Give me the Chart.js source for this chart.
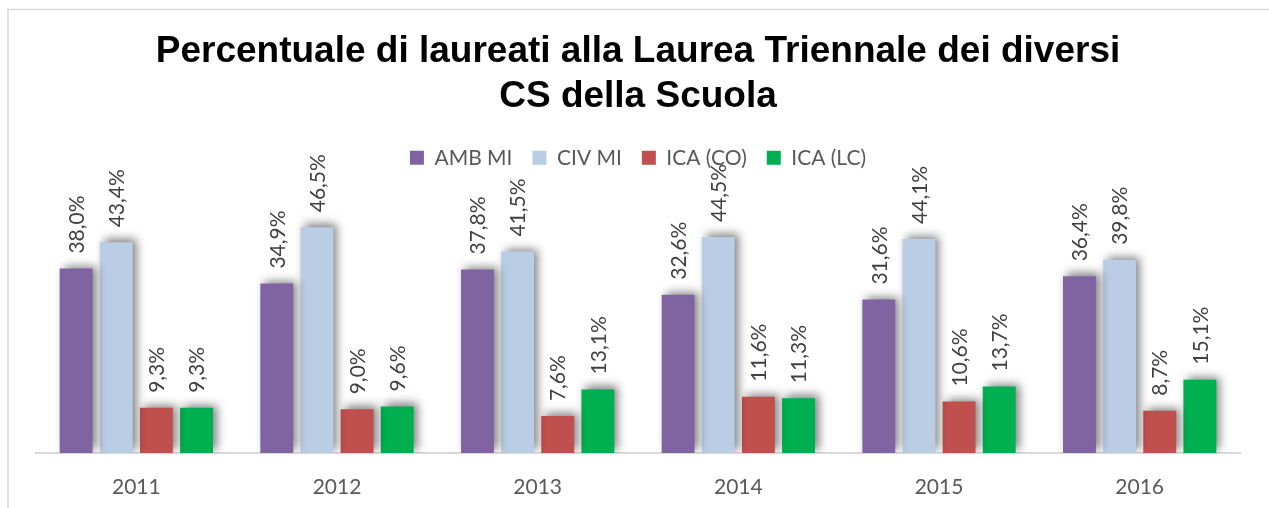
<!DOCTYPE html>
<html>
<head>
<meta charset="utf-8">
<script src="https://cdn.jsdelivr.net/npm/chart.js@4/dist/chart.umd.min.js"></script>
<style>
  body { margin: 0; background: #fff; }
  canvas { display: block; }
</style>
</head>
<body>
<canvas id="chart" width="1269" height="508"></canvas>
<script>
// DATA
const years = ["2011", "2012", "2013", "2014", "2015", "2016"];
const seriesNames = ["AMB MI", "CIV MI", "ICA (CO)", "ICA (LC)"];
const ambMi = [38.0, 34.9, 37.8, 32.6, 31.6, 36.4];
const civMi = [43.4, 46.5, 41.5, 44.5, 44.1, 39.8];
const icaCo = [9.3, 9.0, 7.6, 11.6, 10.6, 8.7];
const icaLc = [9.3, 9.6, 13.1, 11.3, 13.7, 15.1];
const seriesColors = ["#8064A2", "#B9CDE5", "#C0504D", "#00B050"];

const titleLines = [
    "Percentuale di laureati alla Laurea Triennale dei diversi",
    "CS della Scuola"
];

const bodyFont = "Lato, 'Open Sans', sans-serif";

// chart frame + bar shadows + value labels
const framePlugin = {
    id: "frame",
    beforeDraw(chart) {
        const ctx = chart.ctx;
        ctx.save();
        ctx.fillStyle = "#fff";
        ctx.fillRect(0, 0, chart.width, chart.height);
        ctx.strokeStyle = "#d9d9d9";
        ctx.lineWidth = 1.5;
        ctx.strokeRect(8, 9.5, 1400, 700);
        ctx.restore();
    }
};

const shadowPlugin = {
    id: "barShadow",
    beforeDatasetsDraw(chart) {
        const ctx = chart.ctx;
        ctx.save();
        ctx.shadowColor = "rgba(0,0,0,0.5)";
        ctx.shadowBlur = 9;
        ctx.shadowOffsetX = 4;
        ctx.shadowOffsetY = -3;
    },
    afterDatasetsDraw(chart) {
        const ctx = chart.ctx;
        ctx.restore();

        ctx.save();
        ctx.fillStyle = "#404040";
        ctx.font = "21px " + bodyFont;
        ctx.textAlign = "left";
        ctx.textBaseline = "middle";
        chart.data.datasets.forEach((ds, i) => {
            const meta = chart.getDatasetMeta(i);
            meta.data.forEach((bar, j) => {
                const txt = ds.data[j].toFixed(1).replace(".", ",") + "%";
                ctx.save();
                ctx.translate(bar.x + 1, bar.y - 15);
                ctx.rotate(-Math.PI / 2);
                ctx.fillText(txt, 0, 0);
                ctx.restore();
            });
        });
        ctx.restore();
    }
};

const allSeries = [ambMi, civMi, icaCo, icaLc];

new Chart(document.getElementById("chart"), {
    type: "bar",
    data: {
        labels: years,
        datasets: allSeries.map((vals, i) => ({
            label: seriesNames[i],
            data: vals,
            backgroundColor: seriesColors[i],
            borderWidth: 0,
            categoryPercentage: 0.8,
            barPercentage: 0.82
        }))
    },
    options: {
        responsive: false,
        animation: false,
        layout: {
            padding: { top: 29, left: 36, right: 29, bottom: 0 }
        },
        plugins: {
            title: {
                display: true,
                text: titleLines,
                color: "#000",
                font: { family: "'Liberation Sans', Arial, sans-serif", size: 37, weight: "bold", lineHeight: 1.22 },
                padding: { top: 0, bottom: 8 }
            },
            legend: {
                display: true,
                position: "top",
                labels: {
                    boxWidth: 14,
                    boxHeight: 14,
                    padding: 20,
                    color: "#595959",
                    font: { family: bodyFont, size: 21 }
                }
            },
            tooltip: { enabled: false }
        },
        scales: {
            x: {
                grid: { display: false },
                border: { color: "#d9d9d9", width: 2 },
                ticks: {
                    color: "#595959",
                    font: { family: bodyFont, size: 21 },
                    padding: 14
                },
                afterFit(scale) {
                    scale.height = 55;
                }
            },
            y: {
                display: false,
                min: 0,
                max: 56.6
            }
        }
    },
    plugins: [framePlugin, shadowPlugin]
});
</script>
</body>
</html>
